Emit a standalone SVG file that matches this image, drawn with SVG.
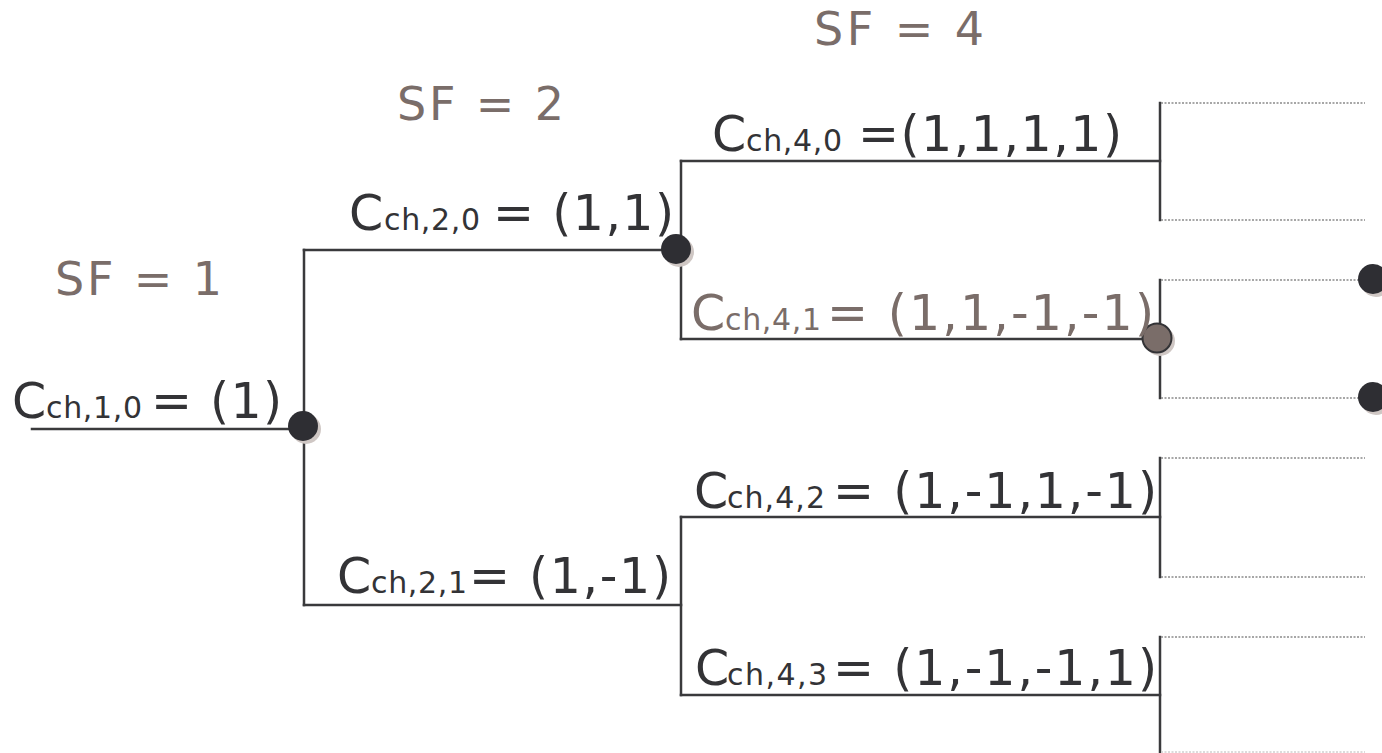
<svg xmlns="http://www.w3.org/2000/svg" width="1382" height="753" viewBox="0 0 1382 753">
<defs>
<style>
.ln{stroke:#3a3a3c;stroke-width:2.5;fill:none;stroke-linecap:square}
.dt{stroke:#8a8a8a;stroke-width:1.6;fill:none;stroke-dasharray:2 1.5}
.lbl{font-family:"DejaVu Sans","Liberation Sans",sans-serif;fill:#333336}
.gray{fill:#7a6d69}
.big{font-size:49px}
.sub{font-size:30px}
.sf{font-family:"DejaVu Sans","Liberation Sans",sans-serif;font-size:46px;fill:#7a6d69}
.dot{fill:#2e2e33}
.shadow{fill:#cfc7c4}
</style>
</defs>
<rect width="1382" height="753" fill="#ffffff"/>
<g id="connectors">
<line class="ln" x1="32" y1="429" x2="304" y2="429"/>
<line class="ln" x1="304" y1="250" x2="304" y2="605"/>
<line class="ln" x1="304" y1="250" x2="676" y2="250"/>
<line class="ln" x1="304" y1="605" x2="681" y2="605"/>
<line class="ln" x1="681" y1="161" x2="681" y2="339"/>
<line class="ln" x1="681" y1="517" x2="681" y2="695"/>
<line class="ln" x1="681" y1="161" x2="1160" y2="161"/>
<line class="ln" x1="681" y1="339" x2="1157" y2="339"/>
<line class="ln" x1="681" y1="517" x2="1160" y2="517"/>
<line class="ln" x1="681" y1="695" x2="1160" y2="695"/>
<line class="ln" x1="1160" y1="103" x2="1160" y2="220"/>
<line class="ln" x1="1160" y1="280" x2="1160" y2="398"/>
<line class="ln" x1="1160" y1="458" x2="1160" y2="577"/>
<line class="ln" x1="1160" y1="637" x2="1160" y2="753"/>
<line class="dt" x1="1161" y1="103" x2="1365" y2="103"/>
<line class="dt" x1="1161" y1="220" x2="1365" y2="220"/>
<line class="dt" x1="1161" y1="280" x2="1365" y2="280"/>
<line class="dt" x1="1161" y1="398" x2="1365" y2="398"/>
<line class="dt" x1="1161" y1="458" x2="1365" y2="458"/>
<line class="dt" x1="1161" y1="577" x2="1365" y2="577"/>
<line class="dt" x1="1161" y1="637" x2="1365" y2="637"/>
<line class="dt" x1="1161" y1="752" x2="1365" y2="752" style="stroke:#cfcfcf"/>
</g>
<g id="node-root">
<circle class="shadow" cx="306" cy="429" r="15"/>
<circle class="dot" cx="303" cy="426" r="15"/>
</g>
<g id="node-sf2">
<circle class="shadow" cx="679" cy="252" r="15"/>
<circle class="dot" cx="676" cy="249" r="15"/>
</g>
<g id="node-sf4-1">
<circle class="shadow" cx="1160" cy="341" r="15"/>
<circle cx="1157" cy="338" r="14.5" fill="#7a6d69" stroke="#333336" stroke-width="2"/>
</g>
<g id="node-sf8-a">
<circle class="shadow" cx="1376" cy="282" r="15"/>
<circle class="dot" cx="1373" cy="279" r="15"/>
</g>
<g id="node-sf8-b">
<circle class="shadow" cx="1376" cy="400" r="15"/>
<circle class="dot" cx="1373" cy="397" r="15"/>
</g>
<g id="labels-sf">
<text class="sf" x="814" y="45" textLength="170" lengthAdjust="spacing">SF = 4</text>
<text class="sf" x="397" y="120" textLength="167" lengthAdjust="spacing">SF = 2</text>
<text class="sf" x="55" y="295" textLength="167" lengthAdjust="spacing">SF = 1</text>
</g>
<g id="label-c10" class="lbl">
<text class="big" x="12" y="418">C</text>
<text class="sub" x="46" y="418" textLength="96" lengthAdjust="spacing">ch,1,0</text>
<text class="big" x="151" y="418" textLength="131" lengthAdjust="spacing">= (1)</text>
</g>
<g id="label-c20" class="lbl">
<text class="big" x="349" y="230">C</text>
<text class="sub" x="384" y="230" textLength="96" lengthAdjust="spacing">ch,2,0</text>
<text class="big" x="493" y="230" textLength="181" lengthAdjust="spacing">= (1,1)</text>
</g>
<g id="label-c21" class="lbl">
<text class="big" x="337" y="593">C</text>
<text class="sub" x="371" y="593" textLength="96" lengthAdjust="spacing">ch,2,1</text>
<text class="big" x="469" y="593" textLength="202" lengthAdjust="spacing">= (1,-1)</text>
</g>
<g id="label-c40" class="lbl">
<text class="big" x="712" y="151">C</text>
<text class="sub" x="746" y="151" textLength="96" lengthAdjust="spacing">ch,4,0</text>
<text class="big" x="858" y="151" textLength="264" lengthAdjust="spacing">=(1,1,1,1)</text>
</g>
<g id="label-c41" class="lbl gray">
<text class="big" x="691" y="330">C</text>
<text class="sub" x="725" y="330" textLength="96" lengthAdjust="spacing">ch,4,1</text>
<text class="big" x="827" y="330" textLength="327" lengthAdjust="spacing">= (1,1,-1,-1)</text>
</g>
<g id="label-c42" class="lbl">
<text class="big" x="694" y="508">C</text>
<text class="sub" x="727" y="508" textLength="98" lengthAdjust="spacing">ch,4,2</text>
<text class="big" x="833" y="508" textLength="324" lengthAdjust="spacing">= (1,-1,1,-1)</text>
</g>
<g id="label-c43" class="lbl">
<text class="big" x="695" y="685">C</text>
<text class="sub" x="727" y="685" textLength="100" lengthAdjust="spacing">ch,4,3</text>
<text class="big" x="833" y="685" textLength="324" lengthAdjust="spacing">= (1,-1,-1,1)</text>
</g>
</svg>
